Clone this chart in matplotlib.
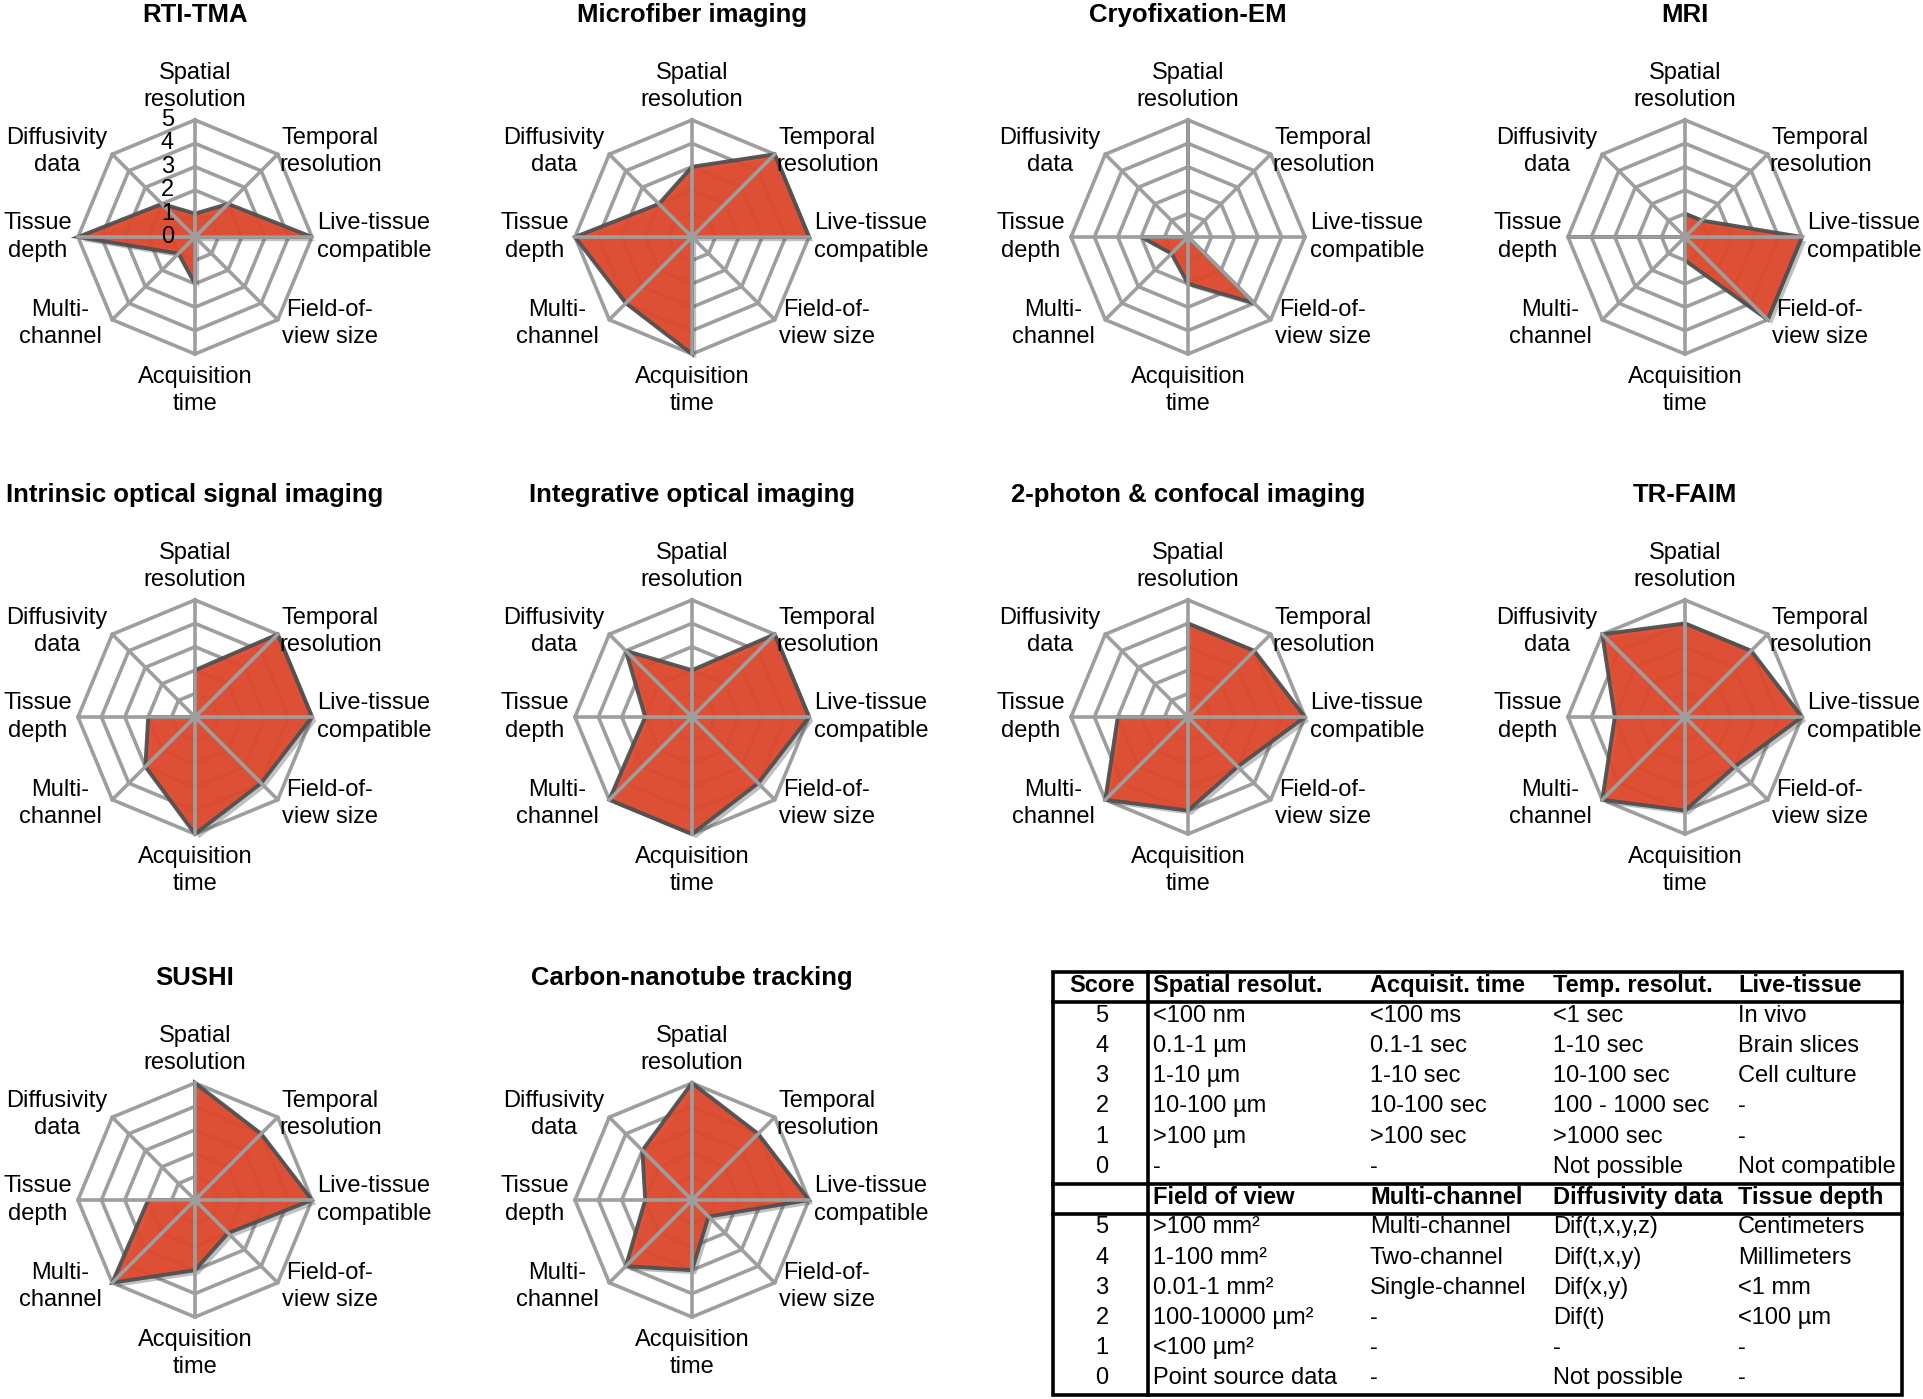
import matplotlib
matplotlib.use('Agg')
import matplotlib.pyplot as plt
import matplotlib.patheffects as pe
from matplotlib.patches import Rectangle
import numpy as np

plt.rcParams['font.family'] = ['Liberation Sans', 'DejaVu Sans']

# spoke order, clockwise from the top
axis_labels = ['Spatial\nresolution', 'Temporal\nresolution', 'Live-tissue\ncompatible',
               'Field-of-\nview size', 'Acquisition\ntime', 'Multi-\nchannel',
               'Tissue\ndepth', 'Diffusivity\ndata']

techniques = ['RTI-TMA', 'Microfiber imaging', 'Cryofixation-EM', 'MRI',
              'Intrinsic optical signal imaging', 'Integrative optical imaging',
              '2-photon & confocal imaging', 'TR-FAIM',
              'SUSHI', 'Carbon-nanotube tracking']

# scores per technique, same order as axis_labels
rti_tma = [1, 2, 5, 0, 2, 1, 5, 2]
microfiber = [3, 5, 5, 0, 5, 4, 5, 2]
cryo_em = [5, 0, 0, 4, 2, 1, 2, 0]
mri = [1, 1, 5, 5, 1, 0, 5, 0]
intrinsic_optical = [2, 5, 5, 4, 5, 3, 2, 0]
integrative_optical = [2, 5, 5, 4, 5, 5, 2, 4]
two_photon = [4, 4, 5, 3, 4, 5, 3, 0]
tr_faim = [4, 4, 5, 3, 4, 5, 3, 5]
sushi = [5, 4, 5, 2, 3, 5, 2, 0]
carbon_nanotube = [5, 4, 5, 1, 3, 4, 2, 3]

all_scores = [rti_tma, microfiber, cryo_em, mri, intrinsic_optical,
              integrative_optical, two_photon, tr_faim, sushi, carbon_nanotube]

score_ticks = [0, 1, 2, 3, 4, 5]

# legend table
score_levels = ['5', '4', '3', '2', '1', '0']
table_head1 = ['Score', 'Spatial resolut.', 'Acquisit. time', 'Temp. resolut.', 'Live-tissue']
spatial_res = ['<100 nm', '0.1-1 µm', '1-10 µm', '10-100 µm', '>100 µm', '-']
acq_time = ['<100 ms', '0.1-1 sec', '1-10 sec', '10-100 sec', '>100 sec', '-']
temp_res = ['<1 sec', '1-10 sec', '10-100 sec', '100 - 1000 sec', '>1000 sec', 'Not possible']
live_tissue = ['In vivo', 'Brain slices', 'Cell culture', '-', '-', 'Not compatible']
table_head2 = ['', 'Field of view', 'Multi-channel', 'Diffusivity data', 'Tissue depth']
fov_size = ['>100 mm²', '1-100 mm²', '0.01-1 mm²', '100-10000 µm²', '<100 µm²', 'Point source data']
multi_channel = ['Multi-channel', 'Two-channel', 'Single-channel', '-', '-', '-']
diffusivity = ['Dif(t,x,y,z)', 'Dif(t,x,y)', 'Dif(x,y)', 'Dif(t)', '-', 'Not possible']
tissue_depth = ['Centimeters', 'Millimeters', '<1 mm', '<100 µm', '-', '-']

W, H = 1924, 1399
FILL = '#E04A2D'
EDGE = '#505050'
GRID = '#9E9E9E'
LW = 2.6

fig = plt.figure(figsize=(W / 100, H / 100), dpi=100)

col_x = [195, 692, 1188, 1685]
row_y = [237, 717, 1200]
R = 117          # radius of the outer ring in pixels
half = 1.2 * R   # half size of each radar axes in pixels

angles = np.pi / 2 - np.arange(8) * 2 * np.pi / 8

# label placement: (x, y, ha, va) in score units
label_pos = [(0, 5.4, 'center', 'bottom'),
             (3.6, 3.65, 'left', 'center'),
             (5.2, 0, 'left', 'center'),
             (3.7, -3.7, 'left', 'center'),
             (0, -5.5, 'center', 'top'),
             (-4.0, -3.7, 'right', 'center'),
             (-5.25, 0, 'right', 'center'),
             (-3.75, 3.65, 'right', 'center')]


def radar(ax, vals, show_ticks=False):
    cx, sx = np.cos(angles), np.sin(angles)
    for lvl in score_ticks[1:]:
        ax.plot(np.append(lvl * cx, lvl * cx[0]), np.append(lvl * sx, lvl * sx[0]),
                color=GRID, lw=LW, zorder=1, solid_joinstyle='miter')
    v = np.array(vals, dtype=float)
    poly = ax.fill(v * cx, v * sx, facecolor=FILL, edgecolor=EDGE, lw=2.8,
                   alpha=0.95, zorder=2, joinstyle='miter')[0]
    poly.set_path_effects([pe.SimplePatchShadow(offset=(3, -3), shadow_rgbFace=(0.3, 0.3, 0.3),
                                                alpha=0.35), pe.Normal()])
    for a in angles:
        ax.plot([0, 5 * np.cos(a)], [0, 5 * np.sin(a)], color=GRID, lw=LW, zorder=3)
    ax.plot(0, 0, 'o', color=GRID, ms=6, zorder=4)
    for lab, (x, y, ha, va) in zip(axis_labels, label_pos):
        ax.text(x, y, lab, ha=ha, va=va, multialignment='center', fontsize=17,
                linespacing=1.3)
    if show_ticks:
        for t in score_ticks:
            ax.text(-0.9, t, str(t), ha='right', va='center', fontsize=17, zorder=5)
    ax.set_xlim(-6, 6)
    ax.set_ylim(-6, 6)
    ax.axis('off')


for k, (name, vals) in enumerate(zip(techniques, all_scores)):
    r, c = divmod(k, 4)
    cxp, cyp = col_x[c], row_y[r]
    ax = fig.add_axes([(cxp - half) / W, 1 - (cyp + half) / H, 2 * half / W, 2 * half / H])
    radar(ax, vals, show_ticks=(k == 0))
    fig.text(cxp / W, 1 - (cyp - 222) / H, name, ha='center', va='center',
             fontsize=18.5, fontweight='bold')

# table
tl, tt, tw, th = 1053, 972, 849, 423
axt = fig.add_axes([tl / W, 1 - (tt + th) / H, tw / W, th / H])
axt.set_xlim(0, tw)
axt.set_ylim(14, 0)
axt.axis('off')
axt.add_patch(Rectangle((0, 0), tw, 14, fill=False, lw=2.6, edgecolor='black', clip_on=False))
for y in [1, 7, 8]:
    axt.plot([0, tw], [y, y], color='black', lw=2.6, clip_on=False)
axt.plot([95, 95], [0, 14], color='black', lw=2.6, clip_on=False)

text_x = [100, 317, 500, 685]
blocks = [(table_head1, [spatial_res, acq_time, temp_res, live_tissue]),
          (table_head2, [fov_size, multi_channel, diffusivity, tissue_depth])]
for b, (head, cols) in enumerate(blocks):
    y0 = b * 7
    axt.text(49, y0 + 0.45, head[0], ha='center', va='center', fontsize=17, fontweight='bold')
    for x, h in zip(text_x, head[1:]):
        axt.text(x, y0 + 0.45, h, ha='left', va='center', fontsize=17, fontweight='bold')
    for i, s in enumerate(score_levels):
        yy = y0 + 1 + i + 0.45
        axt.text(49, yy, s, ha='center', va='center', fontsize=17)
        for x, col in zip(text_x, cols):
            axt.text(x, yy, col[i], ha='left', va='center', fontsize=17)

fig.savefig('out.png', dpi=100)
